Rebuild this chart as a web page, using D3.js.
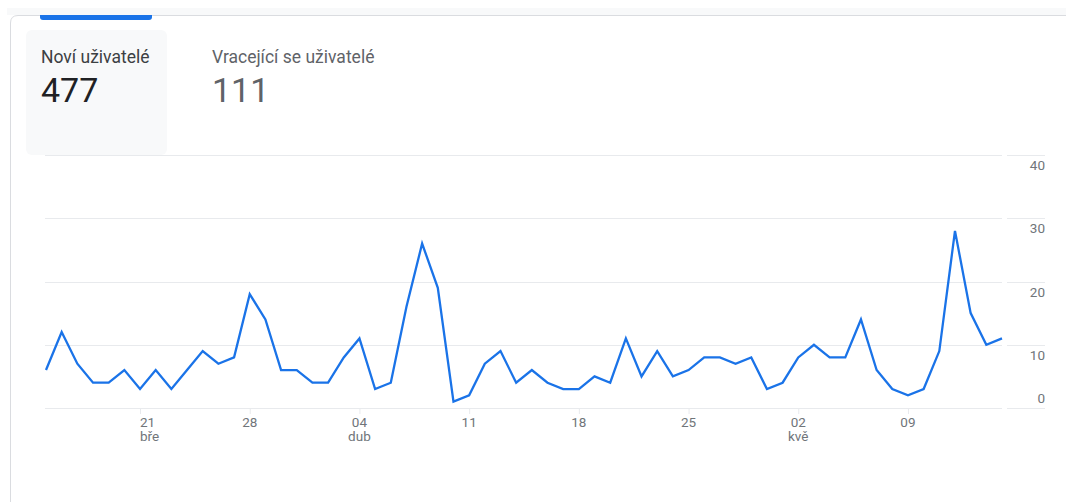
<!DOCTYPE html>
<html lang="cs">
<head>
<meta charset="utf-8">
<title>Noví uživatelé</title>
<script src="https://cdn.jsdelivr.net/npm/d3@7"></script>
<style>
  html, body { margin: 0; padding: 0; background: #ffffff; }
  svg { display: block; font-family: Roboto, "Noto Sans", Arial, sans-serif; }
</style>
</head>
<body>
<svg id="chart" width="1066" height="502"></svg>
<script>
// Daily new users, 15 Mar – 15 May 2021
const startDate = "2021-03-15";
const newUsers = [
  6, 12, 7, 4, 4, 6, 3, 6, 3, 6, 9, 7, 8, 18, 14, 6, 6,
  4, 4, 8, 11, 3, 4, 16, 26, 19, 1, 2, 7, 9, 4, 6, 4, 3, 3, 5, 4, 11, 5, 9, 5, 6, 8, 8, 7, 8, 3, 4,
  8, 10, 8, 8, 14, 6, 3, 2, 3, 9, 28, 15, 10, 11
];
// Summary cards
const cardTitles = ["Noví uživatelé", "Vracející se uživatelé"];
const cardValues = ["477", "111"];
// Axis labels
const yTicks = [0, 10, 20, 30, 40];
const monthNames = ["led", "úno", "bře", "dub", "kvě", "čvn", "čvc", "srp", "zář", "říj", "lis", "pro"];

const svg = d3.select("#chart");
const parse = d3.utcParse("%Y-%m-%d");
const t0 = parse(startDate);
const points = newUsers.map((v, i) => ({ date: d3.utcDay.offset(t0, i), value: v }));

const plot = { left: 46, right: 1002, top: 155, bottom: 408 };
const gridLeft = 45, gutterLeft = 1007, gutterRight = 1045;

const x = d3.scaleUtc()
  .domain(d3.extent(points, d => d.date))
  .range([plot.left, plot.right]);
const y = d3.scaleLinear()
  .domain([0, 40])
  .range([plot.bottom, plot.top]);

// Page strip and card frame
svg.append("rect").attr("x", 7).attr("y", 8).attr("width", 1059).attr("height", 7).attr("fill", "#f8f9fa");
svg.append("path")
  .attr("d", "M10.5,520 L10.5,23 Q10.5,15.5 18,15.5 L1070,15.5")
  .attr("fill", "#ffffff")
  .attr("stroke", "#dadce0")
  .attr("stroke-width", 1);

// Horizontal gridlines (plot area + label gutter)
const grid = svg.append("g");
yTicks.forEach(t => {
  const yy = Math.round(y(t)) + 0.5;
  grid.append("line").attr("x1", gridLeft).attr("x2", plot.right).attr("y1", yy).attr("y2", yy)
    .attr("stroke", "#e8eaed").attr("stroke-width", 1);
  grid.append("line").attr("x1", gutterLeft).attr("x2", gutterRight).attr("y1", yy).attr("y2", yy)
    .attr("stroke", "#e8eaed").attr("stroke-width", 1);
});

// Y labels, right aligned in the gutter
svg.append("g").selectAll("text").data(yTicks).join("text")
  .attr("x", gutterRight)
  .attr("y", d => d === 0 ? y(d) - 5 : y(d) + 15)
  .attr("text-anchor", "end")
  .attr("font-size", 13.5)
  .attr("fill", "#70757a")
  .text(d => d);

// Weekly ticks on Sundays
const weekTicks = d3.utcSunday.range(x.domain()[0], d3.utcDay.offset(x.domain()[1], 1));
const xAxis = d3.axisBottom(x).tickValues(weekTicks).tickSize(6).tickFormat("");
const xg = svg.append("g").attr("transform", `translate(0,${plot.bottom})`).call(xAxis);
xg.select(".domain").remove();
xg.selectAll(".tick line").attr("stroke", "#e8eaed");

// Day labels centred on their ticks; the first one starts at its tick
const seenMonths = new Set();
weekTicks.forEach((d, i) => {
  const tx = x(d);
  const anchor = i === 0 ? "start" : "middle";
  svg.append("text")
    .attr("x", tx)
    .attr("y", 427)
    .attr("text-anchor", anchor)
    .attr("font-size", 13.5)
    .attr("fill", "#70757a")
    .text(d3.utcFormat("%d")(d));
  const m = d.getUTCMonth();
  if (!seenMonths.has(m)) {
    seenMonths.add(m);
    svg.append("text")
      .attr("x", tx)
      .attr("y", 441)
      .attr("text-anchor", anchor)
      .attr("font-size", 13.5)
      .attr("fill", "#70757a")
      .text(monthNames[m]);
  }
});

// Series line
const line = d3.line().x(d => x(d.date)).y(d => y(d.value));
svg.append("path")
  .datum(points)
  .attr("d", line)
  .attr("fill", "none")
  .attr("stroke", "#1a73e8")
  .attr("stroke-width", 2.3)
  .attr("stroke-linejoin", "miter");

// Tabs
svg.append("rect")
  .attr("x", 26).attr("y", 30).attr("width", 141).attr("height", 125)
  .attr("rx", 6).attr("fill", "#f8f9fa");
svg.append("path")
  .attr("d", "M40,15 L152,15 L152,17 Q152,20 149,20 L43,20 Q40,20 40,17 Z")
  .attr("fill", "#1a73e8");

const tabX = [41, 212];
const titleColors = ["#3c4043", "#5f6368"];
const valueColors = ["#202124", "#5f6368"];
cardTitles.forEach((t, i) => {
  svg.append("text")
    .attr("x", tabX[i]).attr("y", 62.5)
    .attr("font-size", 17.5)
    .attr("fill", titleColors[i])
    .text(t);
  svg.append("text")
    .attr("x", tabX[i]).attr("y", 102)
    .attr("font-size", 34)
    .attr("fill", valueColors[i])
    .text(cardValues[i]);
});
</script>
</body>
</html>
